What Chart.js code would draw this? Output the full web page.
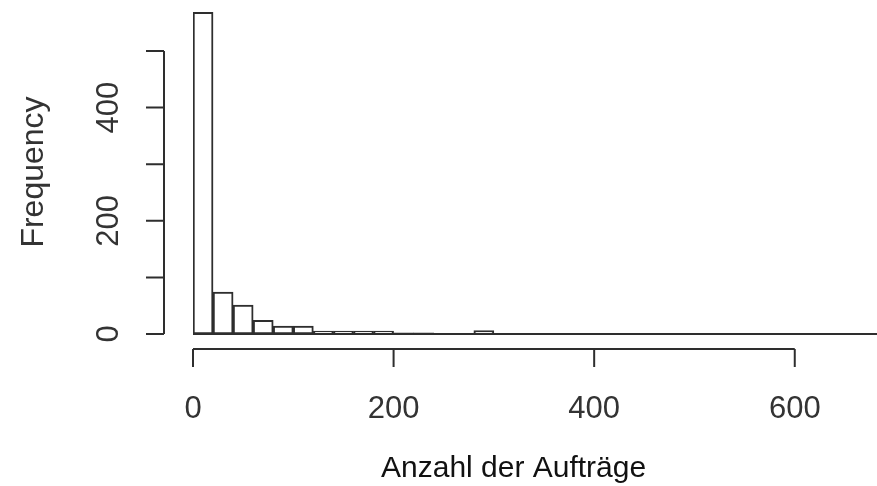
<!DOCTYPE html>
<html>
<head>
<meta charset="utf-8">
<script src="https://cdn.jsdelivr.net/npm/chart.js@4.4.1/dist/chart.umd.min.js"></script>
<style>
  html, body { margin: 0; padding: 0; background: #fff; }
  canvas { display: block; }
</style>
</head>
<body>
<canvas id="hist" width="877" height="486"></canvas>
<script>
// --- DATA ---
// histogram breaks (width 20) and counts per bin
const breaks = [0, 20, 40, 60, 80, 100, 120, 140, 160, 180, 200, 220, 240, 260, 280, 300,
                320, 340, 360, 380, 400, 420, 440, 460, 480, 500, 520, 540, 560, 580, 600,
                620, 640, 660, 680, 700];
const counts = [568, 74, 51, 24, 14, 14, 5, 5, 5, 5, 2, 2, 0, 0, 6,
                0, 0, 0, 0, 0, 0, 0, 0, 0, 0, 0, 0, 0, 0, 0, 0, 0, 0, 0, 0];

const xTicks = [0, 200, 400, 600];
const xTickLabels = ['0', '200', '400', '600'];
const yTicks = [0, 100, 200, 300, 400, 500];
const yTickLabels = ['0', '', '200', '', '400', ''];

const xTitle = 'Anzahl der Aufträge';
const yTitle = 'Frequency';

// --- STYLE ---
const FONT = "'Liberation Sans', Arial, sans-serif";
const lineColor = '#2e2e2e';
const textColor = '#333333';

// bins -> bar points at bin centres
const binData = counts.map((c, i) => ({ x: (breaks[i] + breaks[i + 1]) / 2, y: c }));

// R style detached axes, drawn from the chart's own scales
const rAxes = {
    id: 'rAxes',
    beforeDraw(chart) {
        const ctx = chart.ctx;
        ctx.save();
        ctx.fillStyle = '#ffffff';
        ctx.fillRect(0, 0, chart.width, chart.height);
        ctx.restore();
    },
    afterDatasetsDraw(chart) {
        const { ctx, scales: { x, y } } = chart;
        const y0 = y.getPixelForValue(0);
        const axisY = y0 + 15;       // x axis sits below the baseline
        const axisX = x.left - 29;   // y axis sits left of the first bar
        const tick = 18;

        ctx.save();
        ctx.strokeStyle = lineColor;
        ctx.lineWidth = 2;

        // baseline under the bins
        ctx.beginPath();
        ctx.moveTo(x.getPixelForValue(breaks[0]), y0);
        ctx.lineTo(x.getPixelForValue(breaks[breaks.length - 1]), y0);
        ctx.stroke();

        // x axis
        ctx.beginPath();
        ctx.moveTo(x.getPixelForValue(xTicks[0]), axisY);
        ctx.lineTo(x.getPixelForValue(xTicks[xTicks.length - 1]), axisY);
        xTicks.forEach(v => {
            const px = x.getPixelForValue(v);
            ctx.moveTo(px, axisY);
            ctx.lineTo(px, axisY + tick);
        });
        ctx.stroke();

        // y axis
        ctx.beginPath();
        ctx.moveTo(axisX, y.getPixelForValue(yTicks[0]));
        ctx.lineTo(axisX, y.getPixelForValue(yTicks[yTicks.length - 1]));
        yTicks.forEach(v => {
            const py = y.getPixelForValue(v);
            ctx.moveTo(axisX, py);
            ctx.lineTo(axisX - tick, py);
        });
        ctx.stroke();

        // tick labels
        ctx.fillStyle = textColor;
        ctx.font = `31px ${FONT}`;
        ctx.textAlign = 'center';
        ctx.textBaseline = 'alphabetic';
        xTicks.forEach((v, i) => {
            ctx.fillText(xTickLabels[i], x.getPixelForValue(v), axisY + 69);
        });
        yTicks.forEach((v, i) => {
            if (!yTickLabels[i]) return;
            ctx.save();
            ctx.translate(axisX - 46, y.getPixelForValue(v));
            ctx.rotate(-Math.PI / 2);
            ctx.fillText(yTickLabels[i], 0, 0);
            ctx.restore();
        });

        // axis titles
        ctx.font = `32px ${FONT}`;
        ctx.save();
        ctx.translate(43, 172);
        ctx.rotate(-Math.PI / 2);
        ctx.fillText(yTitle, 0, 0);
        ctx.restore();

        ctx.fillStyle = '#111111';
        ctx.font = `30px ${FONT}`;
        ctx.textAlign = 'left';
        ctx.fillText(xTitle, 381, 477);
        ctx.restore();
    }
};

const histChart = new Chart(document.getElementById('hist'), {
    type: 'bar',
    data: {
        datasets: [{
            data: binData,
            backgroundColor: '#ffffff',
            borderColor: lineColor,
            borderWidth: 2,
            borderSkipped: false,
            barPercentage: 1,
            categoryPercentage: 1
        }]
    },
    options: {
        responsive: false,
        devicePixelRatio: 1,
        animation: false,
        layout: { padding: { left: 193, right: 0, top: 0, bottom: 152 } },
        plugins: {
            legend: { display: false },
            tooltip: { enabled: false }
        },
        scales: {
            x: { type: 'linear', min: 0, max: 682, offset: false, display: false },
            y: { type: 'linear', min: 0, max: 590, display: false }
        }
    },
    plugins: [rAxes]
});
</script>
</body>
</html>
